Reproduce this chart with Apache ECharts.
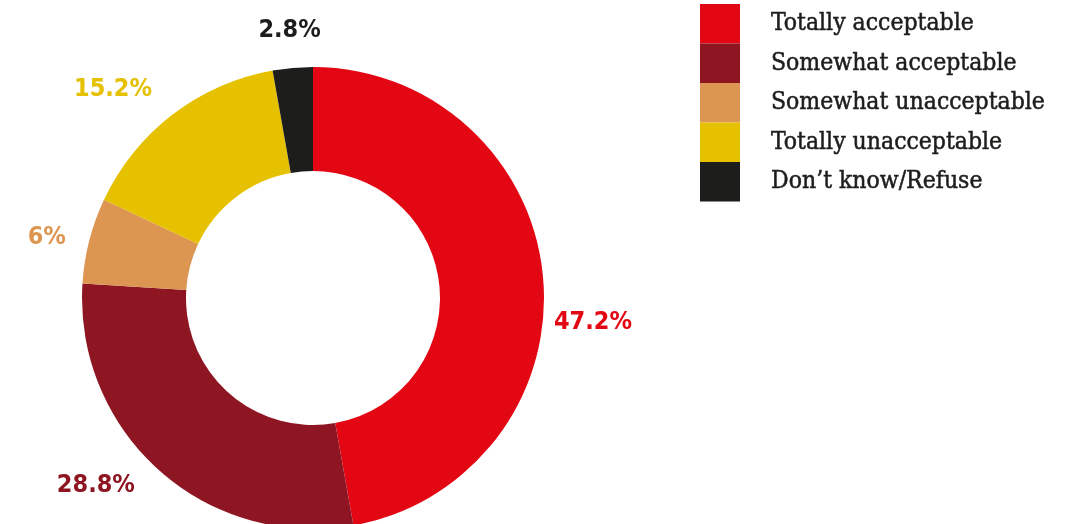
<!DOCTYPE html>
<html>
<head>
<meta charset="utf-8">
<script src="https://cdn.jsdelivr.net/npm/echarts@6/dist/echarts.min.js"></script>
<style>
  html, body { margin: 0; padding: 0; background: #ffffff; }
  #chart { width: 1084px; height: 524px; }
</style>
</head>
<body>
<div id="chart"></div>
<script>
// Survey answers (share of respondents, %)
const categories = [
  'Totally acceptable',
  'Somewhat acceptable',
  'Somewhat unacceptable',
  'Totally unacceptable',
  'Don\u2019t know/Refuse'
];
const values = [47.2, 28.8, 6, 15.2, 2.8];
const colors = ['#E30613', '#8E1622', '#DD9651', '#E5C100', '#1D1D1B'];

// Ring geometry and label placement
const CX = 313, CY = 298, R_IN = 127, R_OUT = 231, LABEL_R = 278;
const labelNudge = [[3, 49], [-32, -20], [3, 9], [-31, 12], [1, 9]];

const total = values.reduce((a, b) => a + b, 0);
const midAngles = [];
let acc = 0;
values.forEach(v => {
  midAngles.push(((acc + v / 2) / total) * 2 * Math.PI);
  acc += v;
});

const chart = echarts.init(document.getElementById('chart'));
chart.setOption({
  animation: false,
  color: colors,
  legend: {
    orient: 'vertical',
    left: 700,
    top: 4,
    padding: 0,
    icon: 'rect',
    itemWidth: 40,
    itemHeight: 39.5,
    itemGap: 0,
    selectedMode: false,
    textStyle: {
      fontFamily: '"DejaVu Serif Condensed", "DejaVu Serif", serif',
      fontSize: 24.5,
      color: '#1D1D1B',
      textBorderColor: '#1D1D1B',
      textBorderWidth: 0.5,
      padding: [6, 0, 0, 26]
    },
    data: categories
  },
  series: [{
    type: 'pie',
    center: [CX, CY],
    radius: [R_IN, R_OUT],
    startAngle: 90,
    clockwise: true,
    avoidLabelOverlap: false,
    label: {
      show: true,
      position: 'outside',
      formatter: p => p.value + '%',
      fontFamily: '"DejaVu Sans Condensed", sans-serif',
      fontWeight: 'bold',
      fontSize: 25
    },
    labelLine: { show: false },
    labelLayout: function (params) {
      const i = params.dataIndex;
      const a = midAngles[i];
      return {
        x: CX + LABEL_R * Math.sin(a) + labelNudge[i][0],
        y: CY - LABEL_R * Math.cos(a) + labelNudge[i][1],
        align: 'center',
        verticalAlign: 'middle'
      };
    },
    data: categories.map((name, i) => ({
      name: name,
      value: values[i],
      label: { color: colors[i] }
    }))
  }]
});
</script>
</body>
</html>
